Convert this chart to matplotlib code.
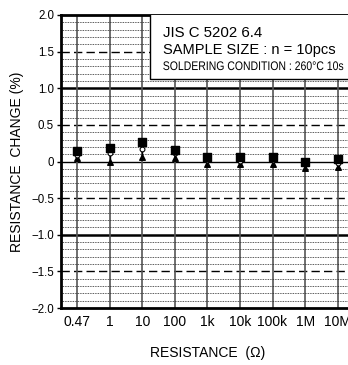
import matplotlib
matplotlib.use("Agg")
import matplotlib.pyplot as plt
from matplotlib.ticker import MultipleLocator
from matplotlib.textpath import TextPath
from matplotlib.patches import PathPatch
from matplotlib.font_manager import FontProperties
from matplotlib.transforms import Affine2D, IdentityTransform

plt.rcParams["font.family"] = ["Liberation Sans", "DejaVu Sans"]

# resistance values (categories) and measured change (%)
resistances = ["0.47", "1", "10", "100", "1k", "10k", "100k", "1M", "10M"]
max_change = [0.15, 0.19, 0.27, 0.16, 0.06, 0.06, 0.06, 0.00, 0.03]
mean_change = [0.09, 0.12, 0.17, 0.12, 0.02, 0.01, 0.02, -0.04, -0.02]
min_change = [0.05, 0.00, 0.06, 0.05, -0.03, -0.04, -0.03, -0.09, -0.07]

y_ticks = [2.0, 1.5, 1.0, 0.5, 0.0, -0.5, -1.0, -1.5, -2.0]
y_tick_labels = ["2.0", "1.5", "1.0", "0.5", "0", "\u22120.5", "\u22121.0", "\u22121.5", "\u22122.0"]

fig = plt.figure(figsize=(3.48, 3.65), dpi=100)
ax = fig.add_axes([0.175, 0.156, 0.842, 0.803])

x = list(range(len(resistances)))
ax.set_xlim(-0.5, len(resistances) - 0.5)
ax.set_ylim(-2.0, 2.0)

# minor dotted grid every 0.1
ax.yaxis.set_minor_locator(MultipleLocator(0.1))
ax.grid(which="minor", axis="y", color="#222222", linestyle=(0, (1, 1)), linewidth=0.6)

# major horizontal lines
for yv in y_ticks:
    if yv in (1.0, -1.0):
        ax.axhline(yv, color="black", lw=1.8, zorder=1)
    elif yv == 0.0:
        ax.axhline(yv, color="black", lw=1.0, zorder=1)
    elif yv in (0.5, -0.5, 1.5, -1.5):
        ax.axhline(yv, color="black", lw=1.0, ls=(0, (6, 3)), zorder=1)

# vertical lines at each category
for xi in x:
    ax.axvline(xi, color="#555555", lw=1.2, zorder=1)

# error bars min..max
ax.vlines(x, min_change, max_change, color="black", lw=1.0, zorder=3)
ax.scatter(x, min_change, marker="^", s=16, color="black", zorder=4)
ax.scatter(x, mean_change, marker="o", s=12, facecolor="white", edgecolor="black", lw=0.8, zorder=5)
ax.scatter(x, max_change, marker="s", s=30, color="black", zorder=6)

ax.set_xticks(x)
ax.set_xticklabels(resistances, fontsize=10)
ax.set_yticks(y_ticks)
ax.set_yticklabels(y_tick_labels, fontsize=8.3)
ax.tick_params(axis="x", length=0, pad=5)
ax.tick_params(axis="y", which="major", length=3, width=1, pad=2)
ax.tick_params(axis="y", which="minor", length=0)

for side in ("left", "bottom", "top"):
    ax.spines[side].set_linewidth(2.0)
ax.spines["right"].set_visible(False)

ax.set_xlabel("RESISTANCE  (\u03a9)", fontsize=10, labelpad=12)
ax.set_ylabel("RESISTANCE  CHANGE (%)", fontsize=10, labelpad=5)

# condition box
box = plt.Rectangle((2.23, 1.12), 7, 0.95, transform=ax.transData,
                    facecolor="white", edgecolor="black", lw=1.0, zorder=7)
ax.add_patch(box)
ax.text(2.63, 1.755, "JIS C 5202 6.4", fontsize=10.8, zorder=8, va="center")
ax.text(2.63, 1.52, "SAMPLE SIZE : n = 10pcs", fontsize=10.5, zorder=8, va="center")

# condensed third line, squeezed horizontally to the reference width
fp = FontProperties(family="Liberation Sans")
tp = TextPath((0, 0), "SOLDERING CONDITION : 260\u00b0C 10s", size=9, prop=fp)
ext = tp.get_extents()
scale_px = fig.dpi / 72.0
sx = 180.0 / (ext.width * scale_px)
x0 = ax.transData.transform((2.63, 1.31))
tr = Affine2D().scale(sx * scale_px, scale_px).translate(x0[0], x0[1] - 0.36 * 9 * scale_px)
patch = PathPatch(tp, transform=tr + IdentityTransform(), facecolor="black", lw=0, zorder=8)
ax.add_artist(patch)

fig.savefig("out.png", dpi=100)
